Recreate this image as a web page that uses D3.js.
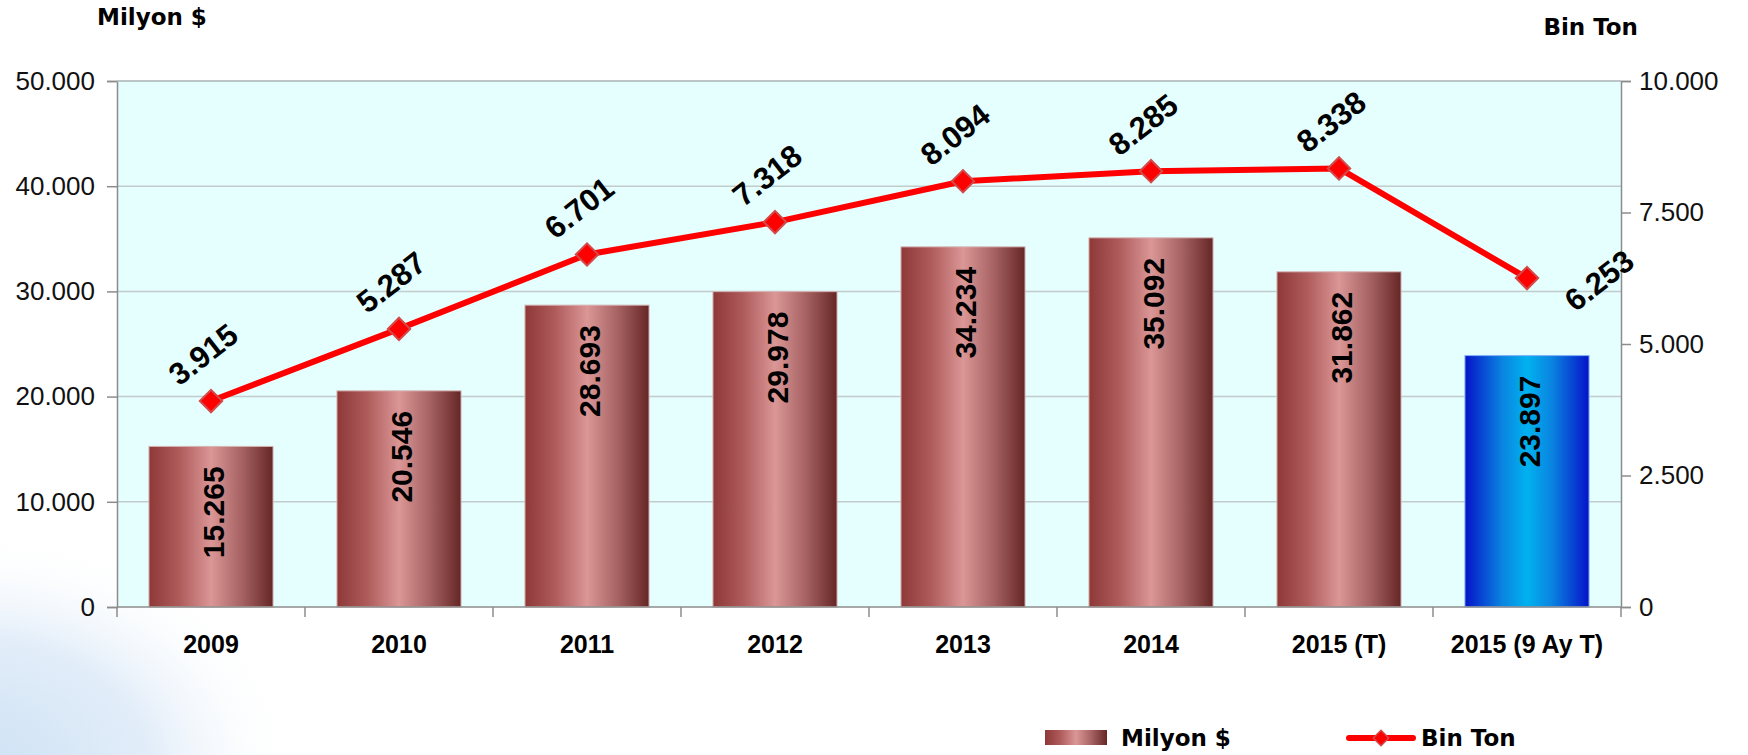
<!DOCTYPE html>
<html>
<head>
<meta charset="utf-8">
<script src="https://cdn.jsdelivr.net/npm/d3@7"></script>
<style>
  body { margin: 0; background: #fff; }
  svg { display: block; }
</style>
</head>
<body>
<svg></svg>
<script>
const categories = ["2009", "2010", "2011", "2012", "2013", "2014", "2015 (T)", "2015 (9 Ay T)"];
const milyonDolar = [15265, 20546, 28693, 29978, 34234, 35092, 31862, 23897];
const binTon = [3915, 5287, 6701, 7318, 8094, 8285, 8338, 6253];
const leftTicks = [0, 10000, 20000, 30000, 40000, 50000];
const rightTicks = [0, 2500, 5000, 7500, 10000];

const width = 1748,
      height = 755,
      margin = { top: 81, right: 127, bottom: 148, left: 117 };

const numFont = "'Liberation Sans', Arial, sans-serif";
const txtFont = "'DejaVu Sans', sans-serif";

const tr = d3.formatLocale({ decimal: ",", thousands: ".", grouping: [3], currency: ["", ""] });
const fmt = tr.format(",.0f");

const svg = d3.select("svg")
      .attr("width", width)
      .attr("height", height)
      .attr("viewBox", [0, 0, width, height]);

const defs = svg.append("defs");

const redGrad = defs.append("linearGradient").attr("id", "redBar");
[["0%", "#8e3838"], ["25%", "#b05c5c"], ["50%", "#db9696"], ["75%", "#a66262"], ["100%", "#662626"]]
  .forEach(s => redGrad.append("stop").attr("offset", s[0]).attr("stop-color", s[1]));

const blueGrad = defs.append("linearGradient").attr("id", "blueBar");
[["0%", "#0514c8"], ["30%", "#0a84e0"], ["50%", "#00b2ef"], ["70%", "#0a84e0"], ["100%", "#0514c8"]]
  .forEach(s => blueGrad.append("stop").attr("offset", s[0]).attr("stop-color", s[1]));

const swoosh = defs.append("radialGradient").attr("id", "swoosh");
swoosh.append("stop").attr("offset", "0%").attr("stop-color", "#cde1f4");
swoosh.append("stop").attr("offset", "55%").attr("stop-color", "#e2edf9");
swoosh.append("stop").attr("offset", "100%").attr("stop-color", "#ffffff").attr("stop-opacity", 0);

// decorative background swoosh bottom-left
svg.append("ellipse")
    .attr("cx", -30).attr("cy", 770)
    .attr("rx", 330).attr("ry", 240)
    .attr("fill", "url(#swoosh)");

const x = d3.scaleBand()
      .domain(categories)
      .range([margin.left, width - margin.right])
      .paddingInner(0.34)
      .paddingOuter(0.17);

const xOuter = d3.scaleBand()
      .domain(categories)
      .range([margin.left, width - margin.right]);

const y = d3.scaleLinear()
      .domain([0, 50000])
      .range([height - margin.bottom, margin.top]);

const y2 = d3.scaleLinear()
      .domain([0, 10000])
      .range([height - margin.bottom, margin.top]);

// plot background
svg.append("rect")
    .attr("x", margin.left)
    .attr("y", margin.top)
    .attr("width", width - margin.right - margin.left)
    .attr("height", height - margin.bottom - margin.top)
    .attr("fill", "#e5fefe");

// grid
svg.append("g")
    .selectAll("line")
    .data(leftTicks.filter(d => d > 0))
    .join("line")
    .attr("x1", margin.left)
    .attr("x2", width - margin.right)
    .attr("y1", d => y(d))
    .attr("y2", d => y(d))
    .attr("stroke", "#c2cccc")
    .attr("stroke-width", 1.5);

// bars
svg.append("g")
    .selectAll("rect")
    .data(categories)
    .join("rect")
    .attr("x", d => x(d))
    .attr("y", (d, i) => y(milyonDolar[i]))
    .attr("width", x.bandwidth())
    .attr("height", (d, i) => y(0) - y(milyonDolar[i]))
    .attr("fill", (d, i) => i === categories.length - 1 ? "url(#blueBar)" : "url(#redBar)")
    .attr("stroke", (d, i) => i === categories.length - 1 ? "#7fb0f5" : "#d6b4b4")
    .attr("stroke-width", 1);

// bar labels
svg.append("g")
    .selectAll("text")
    .data(categories)
    .join("text")
    .attr("transform", (d, i) => `translate(${x(d) + x.bandwidth() / 2 + 2},${y(milyonDolar[i]) + 20}) rotate(-90)`)
    .attr("text-anchor", "end")
    .attr("dy", "0.36em")
    .attr("font-family", numFont)
    .attr("font-weight", "bold")
    .attr("font-size", 30)
    .attr("fill", "#000")
    .text((d, i) => fmt(milyonDolar[i]));

// axes
const yAxis = d3.axisLeft(y).tickValues(leftTicks).tickFormat(fmt).tickSize(10).tickPadding(12);
const y2Axis = d3.axisRight(y2).tickValues(rightTicks).tickFormat(fmt).tickSize(10).tickPadding(8);

const yAx = svg.append("g")
      .attr("transform", `translate(${margin.left},0)`)
      .call(yAxis);
const y2Ax = svg.append("g")
      .attr("transform", `translate(${width - margin.right},0)`)
      .call(y2Axis);

[yAx, y2Ax].forEach(g => {
  g.select(".domain").attr("stroke", "#8c8c8c").attr("stroke-width", 1.5);
  g.selectAll(".tick line").attr("stroke", "#8c8c8c").attr("stroke-width", 1.5);
  g.selectAll(".tick text")
    .attr("font-family", numFont)
    .attr("font-size", 26)
    .attr("fill", "#111");
});

// top border
svg.append("line")
    .attr("x1", margin.left).attr("x2", width - margin.right)
    .attr("y1", margin.top).attr("y2", margin.top)
    .attr("stroke", "#b5bfbf").attr("stroke-width", 1.5);

// x axis
const xg = svg.append("g");
xg.append("line")
    .attr("x1", margin.left).attr("x2", width - margin.right)
    .attr("y1", y(0)).attr("y2", y(0))
    .attr("stroke", "#8c8c8c").attr("stroke-width", 1.5);
xg.selectAll("line.tick")
    .data(categories.map(d => xOuter(d)).concat([width - margin.right]))
    .join("line")
    .attr("class", "tick")
    .attr("x1", d => d).attr("x2", d => d)
    .attr("y1", y(0)).attr("y2", y(0) + 10)
    .attr("stroke", "#8c8c8c").attr("stroke-width", 1.5);
xg.selectAll("text")
    .data(categories)
    .join("text")
    .attr("x", d => x(d) + x.bandwidth() / 2)
    .attr("y", y(0) + 46)
    .attr("text-anchor", "middle")
    .attr("font-family", numFont)
    .attr("font-weight", "bold")
    .attr("font-size", 25)
    .attr("fill", "#000")
    .text(d => d);

// line series
const line = d3.line()
      .x((d, i) => x(categories[i]) + x.bandwidth() / 2)
      .y(d => y2(d));

svg.append("path")
    .attr("fill", "none")
    .attr("stroke", "#ff0000")
    .attr("stroke-width", 6)
    .attr("stroke-linejoin", "round")
    .attr("d", line(binTon));

const diamond = d3.symbol(d3.symbolSquare, 250);

svg.append("g")
    .selectAll("path")
    .data(binTon)
    .join("path")
    .attr("transform", (d, i) => `translate(${x(categories[i]) + x.bandwidth() / 2},${y2(d)}) rotate(45)`)
    .attr("d", diamond)
    .attr("fill", "#ff0000")
    .attr("stroke", "#d24a4a")
    .attr("stroke-width", 2);

svg.append("g")
    .selectAll("text")
    .data(binTon)
    .join("text")
    .attr("transform", (d, i) => {
      const px = x(categories[i]) + x.bandwidth() / 2;
      const py = y2(d);
      return i === binTon.length - 1
        ? `translate(${px + 72},${py + 2}) rotate(-38)`
        : `translate(${px - 8},${py - 47}) rotate(-38)`;
    })
    .attr("text-anchor", "middle")
    .attr("dy", "0.36em")
    .attr("font-family", numFont)
    .attr("font-weight", "bold")
    .attr("font-size", 31)
    .attr("fill", "#000")
    .text(d => fmt(d));

// axis titles
svg.append("text")
    .attr("x", 97).attr("y", 25)
    .attr("font-family", txtFont)
    .attr("font-weight", "bold")
    .attr("font-size", 23)
    .text("Milyon $");

svg.append("text")
    .attr("x", 1638).attr("y", 35)
    .attr("text-anchor", "end")
    .attr("font-family", txtFont)
    .attr("font-weight", "bold")
    .attr("font-size", 23)
    .text("Bin Ton");

// legend
const legend = svg.append("g");
legend.append("rect")
    .attr("x", 1045).attr("y", 730)
    .attr("width", 62).attr("height", 15)
    .attr("fill", "url(#redBar)");
legend.append("text")
    .attr("x", 1121).attr("y", 746)
    .attr("font-family", txtFont)
    .attr("font-weight", "bold")
    .attr("font-size", 23)
    .text("Milyon $");
legend.append("line")
    .attr("x1", 1349).attr("x2", 1413)
    .attr("y1", 738).attr("y2", 738)
    .attr("stroke", "#ff0000")
    .attr("stroke-width", 6)
    .attr("stroke-linecap", "round");
legend.append("path")
    .attr("transform", "translate(1381,738) rotate(45)")
    .attr("d", d3.symbol(d3.symbolSquare, 120))
    .attr("fill", "#ff0000")
    .attr("stroke", "#d24a4a")
    .attr("stroke-width", 1.5);
legend.append("text")
    .attr("x", 1421).attr("y", 746)
    .attr("font-family", txtFont)
    .attr("font-weight", "bold")
    .attr("font-size", 23)
    .text("Bin Ton");
</script>
</body>
</html>
